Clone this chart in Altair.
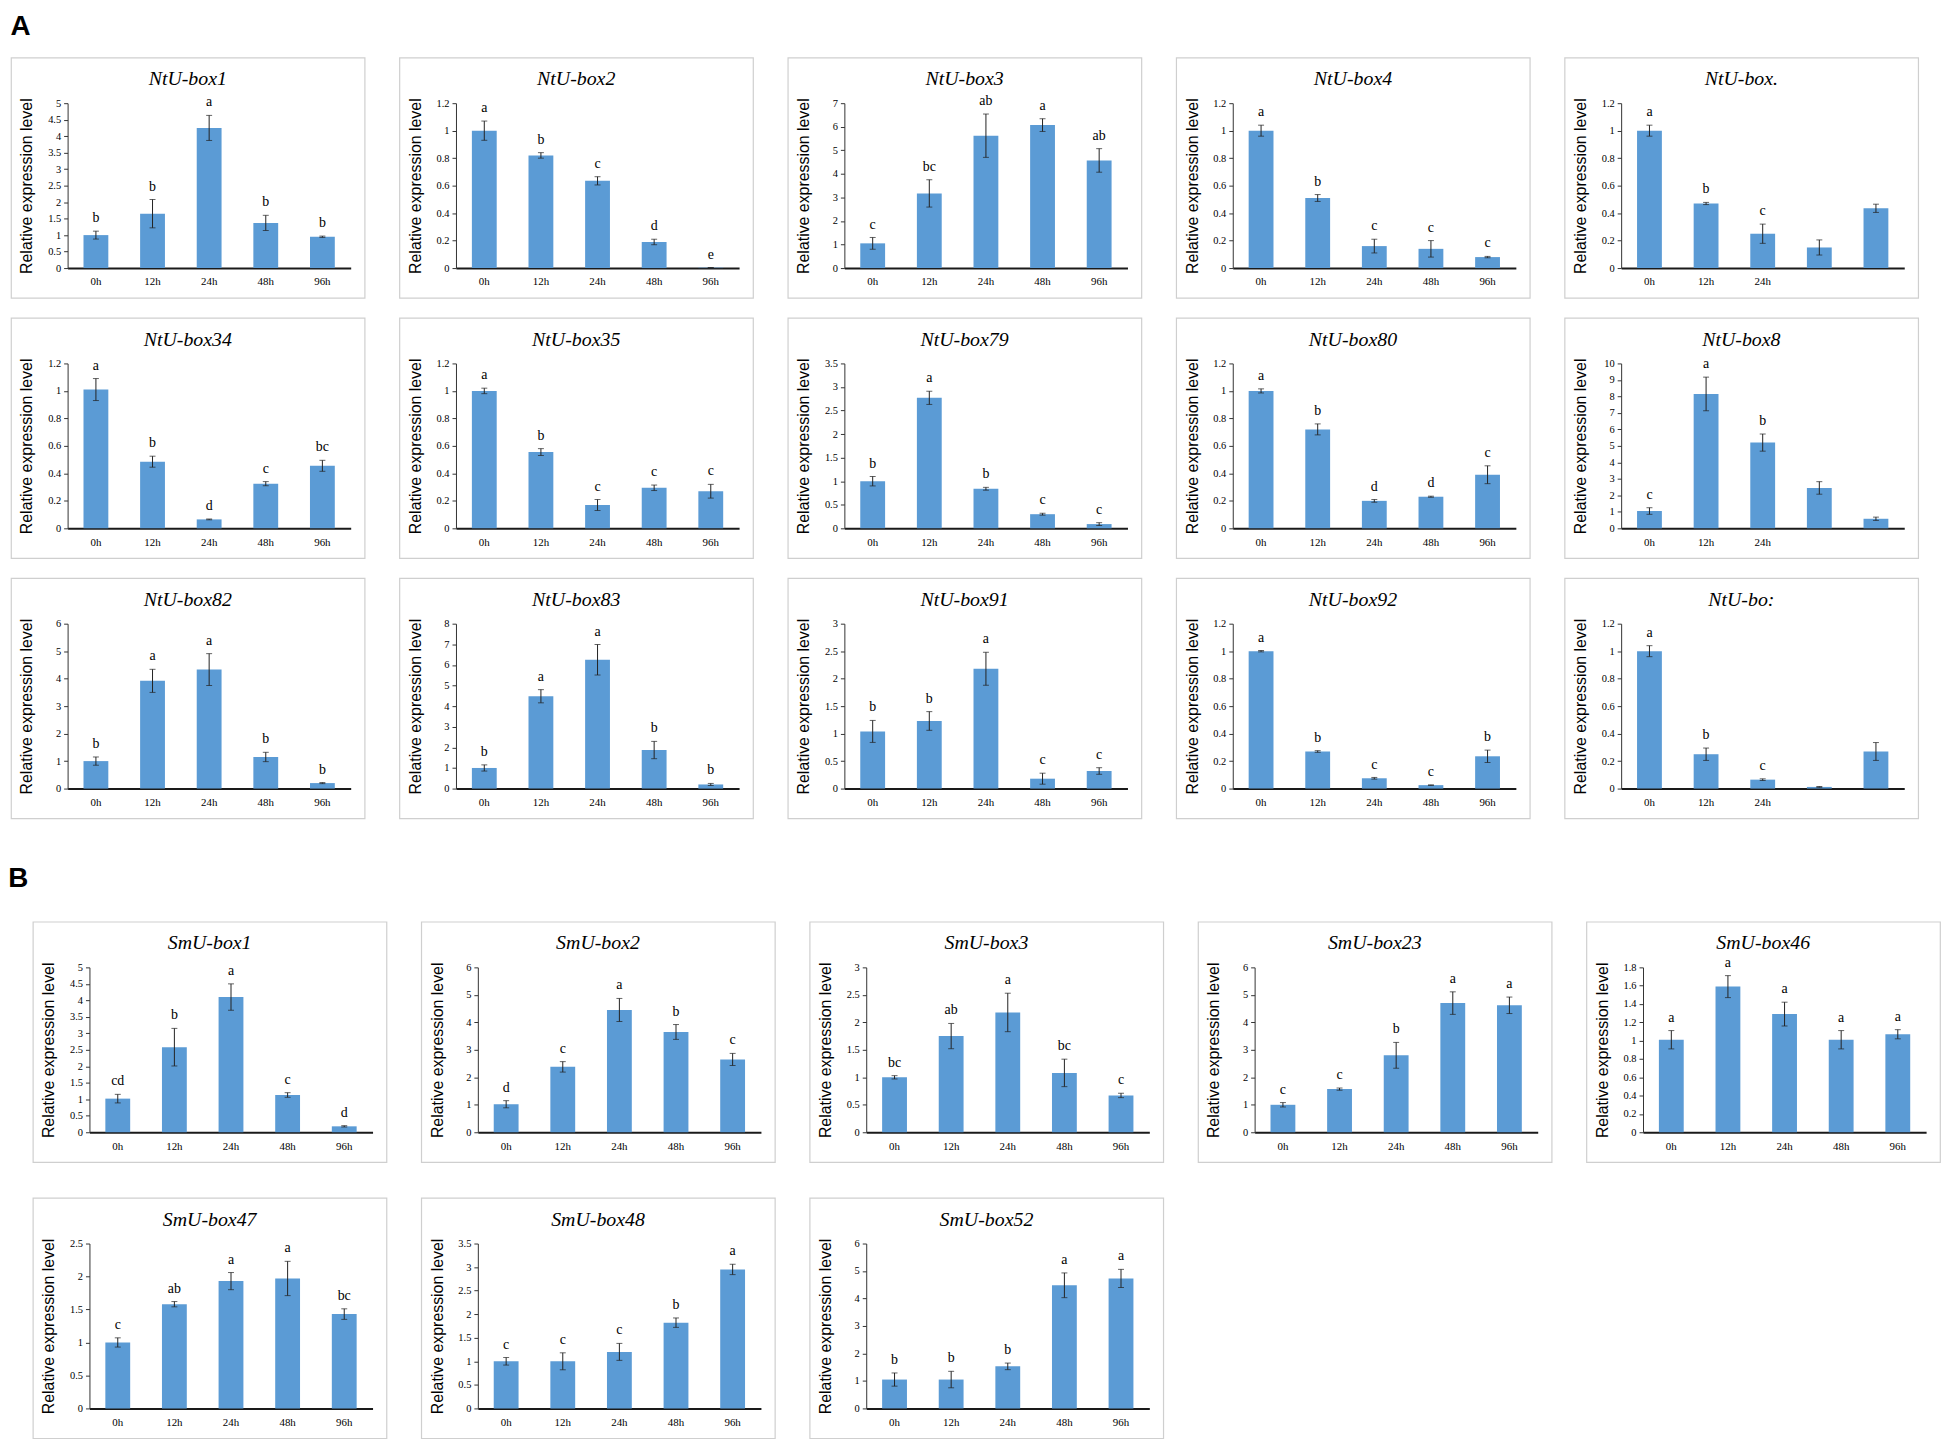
import altair as alt
import pandas as pd

times = ["0h", "12h", "24h", "48h", "96h"]

gene_names = ["NtU-box1", "NtU-box2", "NtU-box3", "NtU-box4", "NtU-box.",
              "NtU-box34", "NtU-box35", "NtU-box79", "NtU-box80", "NtU-box8",
              "NtU-box82", "NtU-box83", "NtU-box91", "NtU-box92", "NtU-bo:",
              "SmU-box1", "SmU-box2", "SmU-box3", "SmU-box23", "SmU-box46",
              "SmU-box47", "SmU-box48", "SmU-box52"]

mean_values = [
    [1.00, 1.65, 4.25, 1.37, 0.95],
    [1.00, 0.82, 0.635, 0.19, 0.003],
    [1.05, 3.17, 5.62, 6.07, 4.57],
    [1.00, 0.51, 0.16, 0.14, 0.08],
    [1.00, 0.47, 0.25, 0.15, 0.435],
    [1.01, 0.485, 0.065, 0.325, 0.455],
    [1.00, 0.555, 0.17, 0.295, 0.27],
    [1.00, 2.77, 0.84, 0.30, 0.09],
    [1.00, 0.72, 0.20, 0.23, 0.39],
    [1.05, 8.15, 5.20, 2.45, 0.58],
    [1.00, 3.92, 4.33, 1.15, 0.20],
    [1.00, 4.48, 6.25, 1.87, 0.20],
    [1.04, 1.23, 2.18, 0.18, 0.32],
    [1.00, 0.27, 0.075, 0.025, 0.235],
    [1.00, 0.25, 0.065, 0.012, 0.27],
    [1.02, 2.58, 4.10, 1.13, 0.18],
    [1.02, 2.38, 4.45, 3.65, 2.65],
    [1.00, 1.75, 2.18, 1.08, 0.67],
    [1.00, 1.57, 2.80, 4.70, 4.62],
    [1.01, 1.59, 1.29, 1.01, 1.07],
    [1.00, 1.58, 1.93, 1.97, 1.43],
    [1.00, 1.00, 1.20, 1.82, 2.95],
    [1.05, 1.05, 1.53, 4.48, 4.73],
]

sd_values = [
    [0.12, 0.43, 0.38, 0.23, 0.02],
    [0.07, 0.02, 0.03, 0.02, 0.001],
    [0.25, 0.58, 0.92, 0.27, 0.50],
    [0.04, 0.025, 0.05, 0.06, 0.005],
    [0.04, 0.008, 0.07, 0.055, 0.03],
    [0.08, 0.04, 0.003, 0.015, 0.04],
    [0.02, 0.025, 0.04, 0.02, 0.05],
    [0.10, 0.14, 0.03, 0.02, 0.03],
    [0.015, 0.04, 0.01, 0.004, 0.065],
    [0.20, 1.02, 0.52, 0.38, 0.10],
    [0.15, 0.42, 0.58, 0.17, 0.02],
    [0.15, 0.32, 0.74, 0.42, 0.05],
    [0.20, 0.17, 0.30, 0.10, 0.06],
    [0.005, 0.006, 0.006, 0.002, 0.045],
    [0.04, 0.045, 0.006, 0.003, 0.065],
    [0.13, 0.57, 0.40, 0.07, 0.02],
    [0.13, 0.19, 0.42, 0.27, 0.22],
    [0.03, 0.23, 0.35, 0.25, 0.04],
    [0.08, 0.04, 0.47, 0.41, 0.30],
    [0.10, 0.12, 0.13, 0.10, 0.05],
    [0.07, 0.04, 0.13, 0.26, 0.08],
    [0.08, 0.18, 0.18, 0.10, 0.11],
    [0.24, 0.30, 0.12, 0.45, 0.33],
]

sig_letters = [
    ["b", "b", "a", "b", "b"],
    ["a", "b", "c", "d", "e"],
    ["c", "bc", "ab", "a", "ab"],
    ["a", "b", "c", "c", "c"],
    ["a", "b", "c", "", ""],
    ["a", "b", "d", "c", "bc"],
    ["a", "b", "c", "c", "c"],
    ["b", "a", "b", "c", "c"],
    ["a", "b", "d", "d", "c"],
    ["c", "a", "b", "", ""],
    ["b", "a", "a", "b", "b"],
    ["b", "a", "a", "b", "b"],
    ["b", "b", "a", "c", "c"],
    ["a", "b", "c", "c", "b"],
    ["a", "b", "c", "", ""],
    ["cd", "b", "a", "c", "d"],
    ["d", "c", "a", "b", "c"],
    ["bc", "ab", "a", "bc", "c"],
    ["c", "c", "b", "a", "a"],
    ["a", "a", "a", "a", "a"],
    ["c", "ab", "a", "a", "bc"],
    ["c", "c", "c", "b", "a"],
    ["b", "b", "b", "a", "a"],
]

y_max = [5, 1.2, 7, 1.2, 1.2, 1.2, 1.2, 3.5, 1.2, 10, 6, 8, 3, 1.2, 1.2,
         5, 6, 3, 6, 1.8, 2.5, 3.5, 6]
y_step = [0.5, 0.2, 1, 0.2, 0.2, 0.2, 0.2, 0.5, 0.2, 1, 1, 1, 0.5, 0.2, 0.2,
          0.5, 1, 0.5, 1, 0.2, 0.5, 0.5, 1]

# panels whose 48h / 96h tick labels are cut off in the original
cropped_panels = [4, 9, 14]

W, H = 356, 242
XL, XR = 57, 342
YT, YB = 46, 212
BAR_COLOR = "#5B9BD5"
Y_TITLE = "Relative expression level"


def panel(i):
    df = pd.DataFrame({
        "time": times,
        "mean": mean_values[i],
        "sd": sd_values[i],
        "sig": sig_letters[i],
    })
    n = int(round(y_max[i] / y_step[i]))
    ticks = [round(k * y_step[i], 4) for k in range(n + 1)]
    if i in cropped_panels:
        lab_expr = "indexof(['0h','12h','24h'], datum.label) >= 0 ? datum.label : ''"
    else:
        lab_expr = "datum.label"
    xscale = alt.Scale(range=[XL, XR], paddingInner=0.56, paddingOuter=0.28)
    yscale = alt.Scale(domain=[0, y_max[i]], range=[YB, YT], nice=False)
    x_axis = alt.Axis(title=None, labelAngle=0, ticks=False,
                      offset=-(H - YB), labelPadding=8,
                      domainWidth=2, domainColor="#1a1a1a",
                      labelExpr=lab_expr, labelFontSize=11)
    y_axis = alt.Axis(title=Y_TITLE, values=ticks,
                      format=".1~f", offset=-XL, tickSize=4,
                      labelPadding=3, domainWidth=1, labelFontSize=10.5,
                      titleFont="Liberation Sans", titleFontSize=16,
                      titleFontWeight="normal", titleColor="#000",
                      titleX=-(XL - 16), titleY=(YB + YT) / 2,
                      titleAngle=-90, titleAlign="center",
                      titleBaseline="middle")
    x_enc = alt.X("time:N", sort=times, scale=xscale, axis=x_axis)

    def y_enc(field):
        return alt.Y(field, scale=yscale, axis=y_axis, title=Y_TITLE)

    base = alt.Chart(df).transform_calculate(
        hi="datum.mean + datum.sd", lo="max(0, datum.mean - datum.sd)")
    bars = base.mark_bar(color=BAR_COLOR, size=25).encode(
        x=x_enc, y=y_enc("mean:Q"))
    rule = base.mark_rule(color="#222", strokeWidth=1).encode(
        x=x_enc, y=y_enc("lo:Q"), y2="hi:Q")
    cap_hi = base.mark_tick(color="#222", thickness=1, size=6).encode(
        x=x_enc, y=y_enc("hi:Q"))
    cap_lo = base.mark_tick(color="#222", thickness=1, size=6).encode(
        x=x_enc, y=y_enc("lo:Q"))
    txt = base.mark_text(font="Liberation Serif", fontSize=14, color="#000",
                         baseline="bottom", dy=-6).encode(
        x=x_enc, y=y_enc("hi:Q"), text="sig:N")
    return alt.layer(bars, rule, cap_hi, cap_lo, txt).properties(
        width=W, height=H,
        title=alt.TitleParams(text=gene_names[i], font="Liberation Serif",
                              fontSize=20, fontStyle="italic",
                              fontWeight="normal", color="#000", offset=-32))


def row(idx, spacing=33):
    return alt.hconcat(*[panel(i) for i in idx], spacing=spacing)


section_a = alt.vconcat(
    row([0, 1, 2, 3, 4]), row([5, 6, 7, 8, 9]), row([10, 11, 12, 13, 14]),
    spacing=18,
    title=alt.TitleParams(text="A", anchor="start", font="Liberation Sans",
                          fontSize=28, fontWeight="bold", color="#000",
                          offset=16))

spacer = alt.Chart(pd.DataFrame({"s": [0]})).mark_point(opacity=0).properties(
    width=1, height=1, view=alt.ViewBackground(stroke="transparent"))

section_b = alt.hconcat(
    spacer,
    alt.vconcat(row([15, 16, 17, 18, 19]), row([20, 21, 22]), spacing=34),
    spacing=17,
    title=alt.TitleParams(text="B", anchor="start", font="Liberation Sans",
                          fontSize=28, fontWeight="bold", color="#000",
                          offset=26))

chart = alt.vconcat(section_a, section_b, spacing=46).properties(
    padding=0, background="white"
).configure_view(
    stroke="#cfcfcf", strokeWidth=1.2
).configure_axis(
    labelFont="Liberation Serif", labelFontSize=11, labelColor="#000",
    grid=False, domainColor="#333", tickColor="#333"
)

chart.save("out.html", embed_options={"renderer": "svg", "actions": False})
